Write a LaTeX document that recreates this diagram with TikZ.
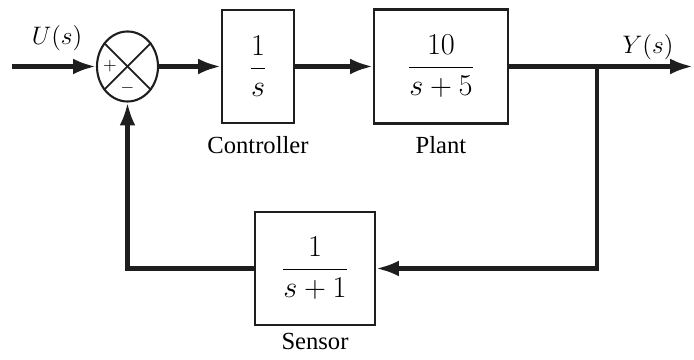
\documentclass[tikz,border=0pt]{standalone}
\usepackage{amsmath}
\usepackage{fontspec}
\setmainfont{Liberation Serif}
\usepackage{tikz}
\usetikzlibrary{arrows.meta,positioning,shapes.geometric}
\definecolor{figline}{RGB}{30,30,30}
\tikzset{
  blk/.style ={draw=figline, line width=1.2pt, inner sep=0pt,
               font=\fontsize{16}{18}\selectfont},
  sumj/.style={draw=figline, line width=1.2pt, ellipse, inner sep=0pt,
               minimum width=1.22cm, minimum height=1.4cm},
  sig/.style ={draw=figline, line width=2.4pt,
               -{Latex[length=13pt,width=9pt]}},
  lab/.style ={font=\rmfamily\fontsize{14}{16}\selectfont, inner sep=1pt},
  sgn/.style ={font=\normalsize, inner sep=0pt},
}
\begin{document}
\begin{tikzpicture}
  \useasboundingbox (0,0) rectangle (13.88,7.2);
  % blocks
  \node[sumj] (sum) at (2.55,5.87) {};
  \node[blk, minimum width=1.44cm, minimum height=2.26cm] (ctrl) at (5.16,5.87) {$\dfrac{1}{s}$};
  \node[blk, minimum width=2.68cm, minimum height=2.28cm] (plant) at (8.82,5.87) {$\dfrac{10}{s+5}$};
  \node[blk, minimum width=2.40cm, minimum height=2.26cm] (sensor) at (6.30,1.83) {$\dfrac{1}{s+1}$};
  % summing junction
  \draw[figline, line width=1pt] (sum.135) -- (sum.-45);
  \draw[figline, line width=1pt] (sum.45) -- (sum.-135);
  \node[sgn] (plus) at ([xshift=-0.35cm]sum.center) {$+$};
  \node[sgn] (minus) at ([yshift=-0.44cm]sum.center) {$-$};
  % labels
  \node[lab, below=0.2cm of ctrl] (ctrllab) {Controller};
  \node[lab, below=0.2cm of plant] (plantlab) {Plant};
  \node[lab, below=0.1cm of sensor] (senslab) {Sensor};
  \node[lab] (ulab) at (1.14,6.44) {$U(s)$};
  \node[lab] (ylab) at (12.96,6.26) {$Y(s)$};
  % signals
  \coordinate (uin) at (0.24,5.87);
  \coordinate (yend) at (13.86,5.87);
  \coordinate (branch) at (11.94,5.87);
  \draw[sig] (uin) -- (sum.west);
  \draw[sig] (sum.east) -- (ctrl.west);
  \draw[sig] (ctrl.east) -- (plant.west);
  \draw[sig] (plant.east) -- (yend);
  \draw[sig] (branch) |- (sensor.east);
  \draw[sig] (sensor.west) -| (sum.south);
\end{tikzpicture}
\end{document}
